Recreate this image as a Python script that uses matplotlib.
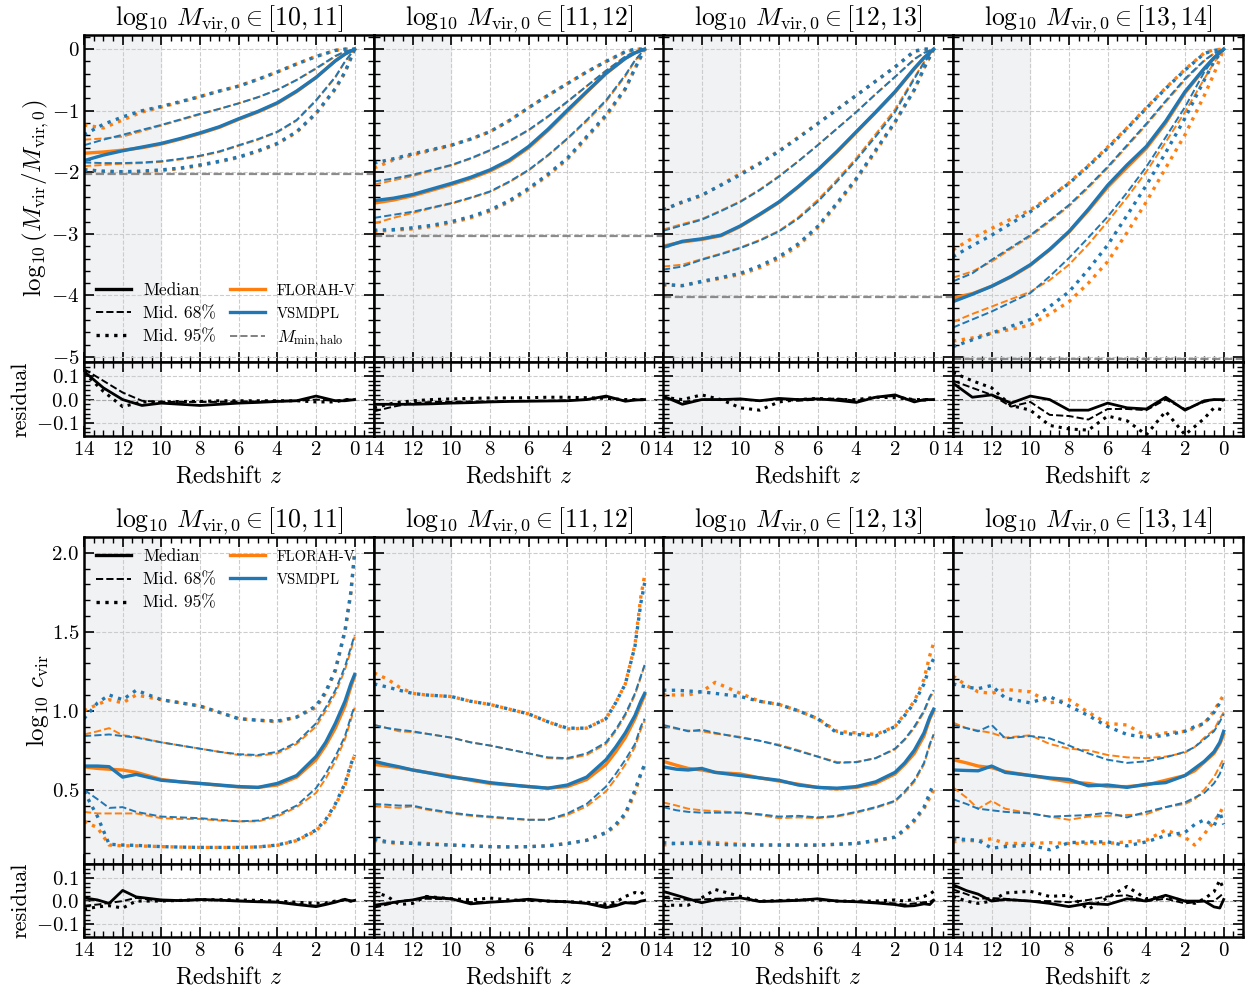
import matplotlib
matplotlib.use('Agg')
import matplotlib.pyplot as plt
from matplotlib.lines import Line2D
from matplotlib.ticker import MultipleLocator, AutoMinorLocator

plt.rcParams['font.family'] = 'cmr10'
plt.rcParams['mathtext.fontset'] = 'cm'
plt.rcParams['axes.formatter.use_mathtext'] = True

# mass bins (log10 Mvir,0) for the four columns
mass_bins = ['[10, 11]', '[11, 12]', '[12, 13]', '[13, 14]']

# redshift grids
z_mah = [14, 13, 12, 11, 10, 9, 8, 7, 6, 5, 4, 3, 2, 1, 0.5, 0]
z_conc = [14, 13.3, 12.7, 12, 11.3, 10, 9, 8, 7, 6, 5, 4, 3, 2, 1.5, 1, 0.5, 0.2, 0]

# minimum halo mass relative to Mvir,0
mmin_halo = [-2.03, -3.03, -4.03, -5.03]

# ---- mass accretion history, log10(Mvir/Mvir,0) ----
mah_med_v = [
    [-1.81, -1.72, -1.65, -1.59, -1.53, -1.45, -1.36, -1.26, -1.13, -1.01, -0.87, -0.68, -0.46, -0.19, -0.08, 0.0],
    [-2.46, -2.42, -2.36, -2.27, -2.18, -2.08, -1.96, -1.80, -1.58, -1.30, -0.99, -0.69, -0.39, -0.15, -0.06, 0.0],
    [-3.22, -3.12, -3.08, -3.02, -2.87, -2.68, -2.48, -2.23, -1.96, -1.66, -1.34, -1.02, -0.69, -0.31, -0.14, 0.0],
    [-4.10, -3.98, -3.85, -3.69, -3.50, -3.25, -2.96, -2.60, -2.21, -1.88, -1.58, -1.17, -0.69, -0.31, -0.14, 0.0],
]
mah_med_f = [
    [-1.69, -1.67, -1.64, -1.60, -1.54, -1.46, -1.37, -1.27, -1.14, -1.02, -0.88, -0.69, -0.46, -0.19, -0.08, 0.0],
    [-2.50, -2.45, -2.38, -2.29, -2.20, -2.10, -1.98, -1.82, -1.60, -1.32, -1.01, -0.70, -0.40, -0.15, -0.06, 0.0],
    [-3.20, -3.13, -3.09, -3.03, -2.88, -2.69, -2.49, -2.24, -1.97, -1.67, -1.35, -1.03, -0.70, -0.32, -0.14, 0.0],
    [-4.04, -3.97, -3.85, -3.70, -3.51, -3.26, -2.97, -2.62, -2.24, -1.92, -1.61, -1.20, -0.71, -0.32, -0.14, 0.0],
]
mah_hi68_v = [
    [-1.56, -1.47, -1.39, -1.31, -1.23, -1.14, -1.05, -0.97, -0.88, -0.78, -0.66, -0.50, -0.31, -0.11, -0.04, 0.0],
    [-2.15, -2.10, -2.04, -1.96, -1.88, -1.77, -1.64, -1.49, -1.31, -1.09, -0.85, -0.60, -0.35, -0.12, -0.04, 0.0],
    [-2.95, -2.86, -2.77, -2.63, -2.48, -2.29, -2.07, -1.82, -1.56, -1.29, -1.02, -0.73, -0.45, -0.16, -0.06, 0.0],
    [-3.77, -3.64, -3.42, -3.22, -3.02, -2.78, -2.53, -2.23, -1.91, -1.56, -1.21, -0.84, -0.48, -0.18, -0.07, 0.0],
]
mah_hi68_f = [
    [-1.47, -1.45, -1.42, -1.33, -1.24, -1.15, -1.06, -0.97, -0.88, -0.78, -0.66, -0.50, -0.32, -0.12, -0.04, 0.0],
    [-2.20, -2.13, -2.06, -1.97, -1.89, -1.78, -1.65, -1.50, -1.32, -1.10, -0.86, -0.60, -0.35, -0.12, -0.04, 0.0],
    [-2.93, -2.84, -2.76, -2.62, -2.47, -2.28, -2.06, -1.82, -1.56, -1.29, -1.02, -0.73, -0.45, -0.17, -0.06, 0.0],
    [-3.71, -3.61, -3.45, -3.24, -3.04, -2.80, -2.55, -2.25, -1.93, -1.58, -1.23, -0.86, -0.50, -0.19, -0.07, 0.0],
]
mah_hi95_v = [
    [-1.39, -1.22, -1.10, -1.00, -0.93, -0.85, -0.77, -0.68, -0.60, -0.49, -0.37, -0.24, -0.12, -0.02, 0.0, 0.0],
    [-1.85, -1.78, -1.70, -1.63, -1.56, -1.46, -1.34, -1.16, -0.95, -0.75, -0.56, -0.37, -0.20, -0.04, 0.0, 0.0],
    [-2.61, -2.48, -2.37, -2.21, -2.04, -1.86, -1.66, -1.44, -1.21, -0.98, -0.75, -0.52, -0.29, -0.03, 0.0, 0.0],
    [-3.37, -3.19, -3.02, -2.83, -2.64, -2.41, -2.18, -1.90, -1.61, -1.29, -0.96, -0.64, -0.34, -0.07, -0.02, 0.0],
]
mah_hi95_f = [
    [-1.23, -1.28, -1.15, -1.02, -0.94, -0.86, -0.77, -0.68, -0.60, -0.49, -0.37, -0.24, -0.12, -0.02, 0.0, 0.0],
    [-1.93, -1.80, -1.72, -1.64, -1.56, -1.46, -1.34, -1.16, -0.95, -0.75, -0.56, -0.37, -0.20, -0.05, 0.0, 0.0],
    [-2.61, -2.49, -2.38, -2.20, -2.02, -1.85, -1.65, -1.43, -1.21, -0.98, -0.75, -0.52, -0.29, -0.04, 0.0, 0.0],
    [-3.26, -3.07, -2.91, -2.76, -2.61, -2.40, -2.17, -1.89, -1.59, -1.28, -0.95, -0.63, -0.33, -0.06, -0.01, 0.0],
]
mah_lo68_v = [
    [-1.84, -1.85, -1.85, -1.84, -1.82, -1.78, -1.73, -1.66, -1.56, -1.46, -1.34, -1.15, -0.83, -0.45, -0.20, 0.0],
    [-2.74, -2.69, -2.64, -2.57, -2.50, -2.41, -2.31, -2.15, -1.96, -1.72, -1.45, -1.15, -0.83, -0.42, -0.18, 0.0],
    [-3.58, -3.53, -3.42, -3.33, -3.23, -3.11, -2.96, -2.75, -2.48, -2.15, -1.80, -1.42, -1.02, -0.48, -0.22, 0.0],
    [-4.52, -4.39, -4.26, -4.11, -3.96, -3.69, -3.39, -3.06, -2.72, -2.33, -1.91, -1.43, -0.94, -0.37, -0.15, 0.0],
]
mah_lo68_f = [
    [-1.90, -1.88, -1.86, -1.85, -1.83, -1.79, -1.74, -1.67, -1.57, -1.47, -1.35, -1.16, -0.84, -0.46, -0.20, 0.0],
    [-2.83, -2.74, -2.66, -2.58, -2.51, -2.42, -2.32, -2.16, -1.97, -1.73, -1.46, -1.17, -0.85, -0.44, -0.19, 0.0],
    [-3.53, -3.50, -3.41, -3.32, -3.22, -3.10, -2.95, -2.73, -2.45, -2.12, -1.77, -1.38, -0.98, -0.46, -0.21, 0.0],
    [-4.43, -4.30, -4.18, -4.06, -3.94, -3.75, -3.50, -3.17, -2.80, -2.41, -1.99, -1.51, -1.02, -0.48, -0.22, 0.0],
]
mah_lo95_v = [
    [-1.96, -1.98, -1.99, -1.98, -1.96, -1.93, -1.88, -1.82, -1.75, -1.65, -1.53, -1.34, -1.04, -0.64, -0.37, 0.0],
    [-2.94, -2.93, -2.90, -2.86, -2.80, -2.72, -2.61, -2.46, -2.26, -2.03, -1.77, -1.42, -1.07, -0.64, -0.31, 0.0],
    [-3.82, -3.84, -3.77, -3.71, -3.64, -3.52, -3.37, -3.16, -2.88, -2.50, -2.10, -1.64, -1.18, -0.66, -0.31, 0.0],
    [-4.83, -4.72, -4.61, -4.50, -4.39, -4.18, -3.94, -3.58, -3.18, -2.70, -2.21, -1.68, -1.12, -0.50, -0.20, 0.0],
]
mah_lo95_f = [
    [-1.95, -1.99, -2.00, -1.99, -1.97, -1.94, -1.89, -1.83, -1.76, -1.66, -1.54, -1.35, -1.05, -0.65, -0.38, 0.0],
    [-2.96, -2.94, -2.92, -2.88, -2.82, -2.74, -2.63, -2.48, -2.28, -2.05, -1.79, -1.44, -1.09, -0.65, -0.32, 0.0],
    [-3.83, -3.84, -3.78, -3.72, -3.66, -3.55, -3.40, -3.19, -2.90, -2.52, -2.12, -1.66, -1.19, -0.66, -0.31, 0.0],
    [-4.74, -4.69, -4.61, -4.55, -4.48, -4.30, -4.10, -3.80, -3.45, -2.98, -2.48, -1.93, -1.39, -0.75, -0.40, 0.0],
]
mah_res_med = [
    [0.12, 0.05, 0.0, -0.025, -0.015, -0.02, -0.025, -0.02, -0.015, -0.012, -0.008, -0.005, 0.015, -0.005, -0.005, 0.0],
    [-0.02, -0.02, -0.02, -0.018, -0.015, -0.013, -0.01, -0.008, -0.007, -0.006, -0.005, 0.0, 0.015, -0.007, -0.002, 0.0],
    [0.015, -0.02, 0.0, 0.0, 0.003, -0.005, 0.005, 0.0, 0.003, -0.003, -0.012, 0.01, 0.02, -0.01, 0.0, 0.0],
    [0.07, 0.01, 0.02, -0.015, 0.015, 0.0, -0.045, -0.045, -0.015, -0.035, -0.04, 0.01, -0.045, -0.005, 0.0, 0.0],
]
mah_res_68 = [
    [0.13, 0.08, 0.03, -0.005, -0.01, -0.01, -0.01, -0.01, -0.008, -0.008, -0.005, -0.005, 0.0, -0.005, 0.0, 0.0],
    [-0.05, -0.03, -0.015, -0.01, -0.01, -0.008, -0.008, -0.006, -0.005, -0.005, -0.003, 0.0, 0.01, -0.005, 0.0, 0.0],
    [0.01, -0.01, 0.0, 0.0, 0.0, -0.005, 0.0, -0.005, 0.0, 0.005, -0.005, 0.01, 0.015, 0.0, -0.005, 0.0],
    [0.08, 0.05, 0.02, -0.03, -0.01, -0.065, -0.07, -0.085, -0.04, -0.04, -0.045, 0.0, -0.04, -0.01, 0.0, -0.005],
]
mah_res_95 = [
    [0.115, 0.035, -0.03, -0.01, -0.01, -0.008, -0.008, -0.005, -0.005, -0.005, -0.005, -0.005, -0.01, -0.01, 0.0, 0.0],
    [-0.035, -0.015, -0.005, 0.0, 0.003, 0.005, 0.007, 0.007, 0.008, 0.01, 0.01, 0.008, 0.005, 0.0, 0.0, 0.0],
    [0.01, 0.0, 0.02, 0.0, -0.035, -0.045, -0.01, 0.0, 0.005, 0.0, 0.0, 0.01, 0.008, 0.0, 0.0, 0.0],
    [0.115, 0.08, 0.05, -0.025, -0.045, -0.11, -0.125, -0.13, -0.07, -0.09, -0.15, -0.05, -0.15, -0.08, -0.035, -0.045],
]

# ---- concentration, log10 c_vir ----
conc_med_v = [
    [0.65, 0.65, 0.646, 0.58, 0.597, 0.56, 0.55, 0.54, 0.53, 0.52, 0.515, 0.54, 0.59, 0.71, 0.80, 0.92, 1.06, 1.17, 1.23],
    [0.68, 0.66, 0.645, 0.625, 0.61, 0.58, 0.565, 0.545, 0.532, 0.52, 0.51, 0.53, 0.58, 0.69, 0.77, 0.86, 0.97, 1.06, 1.11],
    [0.645, 0.63, 0.625, 0.635, 0.61, 0.59, 0.575, 0.56, 0.53, 0.515, 0.51, 0.52, 0.55, 0.61, 0.67, 0.75, 0.86, 0.96, 1.01],
    [0.625, 0.622, 0.62, 0.65, 0.61, 0.59, 0.575, 0.565, 0.525, 0.53, 0.515, 0.535, 0.545, 0.59, 0.635, 0.68, 0.74, 0.80, 0.87],
]
conc_med_f = [
    [0.645, 0.635, 0.63, 0.625, 0.61, 0.565, 0.55, 0.54, 0.528, 0.518, 0.515, 0.53, 0.58, 0.69, 0.78, 0.89, 1.03, 1.15, 1.22],
    [0.66, 0.65, 0.64, 0.625, 0.61, 0.585, 0.56, 0.54, 0.53, 0.52, 0.51, 0.52, 0.565, 0.66, 0.74, 0.83, 0.95, 1.04, 1.10],
    [0.68, 0.655, 0.635, 0.625, 0.61, 0.60, 0.575, 0.555, 0.535, 0.515, 0.505, 0.515, 0.54, 0.60, 0.66, 0.73, 0.84, 0.95, 1.00],
    [0.69, 0.67, 0.65, 0.64, 0.615, 0.59, 0.57, 0.55, 0.54, 0.52, 0.52, 0.53, 0.56, 0.59, 0.62, 0.675, 0.73, 0.79, 0.85],
]
conc_hi68_v = [
    [0.84, 0.845, 0.85, 0.84, 0.83, 0.80, 0.78, 0.76, 0.74, 0.725, 0.72, 0.74, 0.80, 0.92, 1.02, 1.13, 1.28, 1.40, 1.48],
    [0.91, 0.89, 0.88, 0.87, 0.855, 0.83, 0.80, 0.78, 0.755, 0.73, 0.705, 0.70, 0.73, 0.80, 0.88, 0.98, 1.11, 1.22, 1.29],
    [0.91, 0.89, 0.87, 0.88, 0.86, 0.83, 0.81, 0.78, 0.745, 0.71, 0.67, 0.675, 0.70, 0.76, 0.82, 0.90, 1.00, 1.09, 1.13],
    [0.91, 0.89, 0.87, 0.91, 0.825, 0.84, 0.825, 0.78, 0.73, 0.69, 0.67, 0.68, 0.705, 0.74, 0.77, 0.82, 0.87, 0.93, 0.98],
]
conc_hi68_f = [
    [0.85, 0.87, 0.89, 0.845, 0.835, 0.80, 0.78, 0.76, 0.74, 0.72, 0.715, 0.73, 0.79, 0.90, 1.00, 1.11, 1.26, 1.38, 1.47],
    [0.91, 0.89, 0.87, 0.865, 0.855, 0.83, 0.80, 0.78, 0.755, 0.73, 0.70, 0.695, 0.72, 0.79, 0.87, 0.97, 1.10, 1.21, 1.29],
    [0.905, 0.885, 0.875, 0.87, 0.855, 0.835, 0.81, 0.785, 0.75, 0.71, 0.675, 0.675, 0.70, 0.755, 0.815, 0.89, 0.99, 1.08, 1.12],
    [0.925, 0.89, 0.875, 0.86, 0.83, 0.845, 0.79, 0.76, 0.75, 0.72, 0.705, 0.70, 0.71, 0.735, 0.77, 0.83, 0.88, 0.95, 0.99],
]
conc_hi95_v = [
    [0.95, 1.05, 1.10, 1.07, 1.13, 1.07, 1.05, 1.03, 0.99, 0.95, 0.94, 0.935, 0.96, 1.03, 1.12, 1.26, 1.51, 1.75, 2.00],
    [1.17, 1.15, 1.13, 1.11, 1.10, 1.09, 1.06, 1.04, 1.01, 0.98, 0.93, 0.89, 0.89, 0.95, 1.05, 1.17, 1.41, 1.68, 1.81],
    [1.13, 1.13, 1.125, 1.12, 1.11, 1.09, 1.06, 1.04, 1.00, 0.95, 0.86, 0.85, 0.84, 0.90, 0.97, 1.05, 1.17, 1.28, 1.33],
    [1.17, 1.15, 1.14, 1.16, 1.08, 1.05, 1.09, 1.03, 0.97, 0.90, 0.85, 0.83, 0.845, 0.87, 0.90, 0.92, 0.99, 1.05, 1.07],
]
conc_hi95_f = [
    [1.00, 1.04, 1.07, 1.05, 1.10, 1.07, 1.05, 1.03, 0.99, 0.95, 0.94, 0.93, 0.96, 1.02, 1.11, 1.25, 1.50, 1.74, 2.00],
    [1.24, 1.20, 1.15, 1.11, 1.10, 1.09, 1.06, 1.04, 1.01, 0.98, 0.93, 0.885, 0.89, 0.95, 1.05, 1.17, 1.42, 1.72, 1.86],
    [1.10, 1.10, 1.10, 1.12, 1.18, 1.11, 1.06, 1.04, 1.00, 0.95, 0.87, 0.86, 0.85, 0.90, 0.98, 1.06, 1.20, 1.35, 1.43],
    [1.22, 1.16, 1.12, 1.11, 1.135, 1.12, 1.05, 1.07, 0.99, 0.92, 0.91, 0.84, 0.86, 0.87, 0.89, 0.92, 1.00, 1.06, 1.10],
]
conc_lo68_v = [
    [0.50, 0.44, 0.385, 0.39, 0.36, 0.33, 0.325, 0.32, 0.31, 0.30, 0.305, 0.34, 0.40, 0.51, 0.60, 0.71, 0.84, 0.96, 1.03],
    [0.41, 0.405, 0.40, 0.40, 0.38, 0.355, 0.34, 0.33, 0.32, 0.31, 0.31, 0.35, 0.41, 0.52, 0.60, 0.69, 0.79, 0.90, 0.95],
    [0.39, 0.37, 0.36, 0.355, 0.355, 0.355, 0.345, 0.33, 0.335, 0.325, 0.335, 0.36, 0.39, 0.43, 0.49, 0.56, 0.67, 0.79, 0.85],
    [0.44, 0.41, 0.38, 0.37, 0.36, 0.35, 0.33, 0.335, 0.34, 0.355, 0.325, 0.36, 0.39, 0.42, 0.45, 0.48, 0.54, 0.60, 0.67],
]
conc_lo68_f = [
    [0.36, 0.35, 0.35, 0.35, 0.35, 0.32, 0.315, 0.315, 0.305, 0.30, 0.30, 0.33, 0.39, 0.48, 0.57, 0.68, 0.82, 0.94, 1.02],
    [0.40, 0.39, 0.385, 0.395, 0.375, 0.35, 0.335, 0.325, 0.315, 0.31, 0.31, 0.34, 0.395, 0.49, 0.57, 0.66, 0.77, 0.88, 0.94],
    [0.42, 0.40, 0.38, 0.37, 0.365, 0.355, 0.34, 0.32, 0.325, 0.32, 0.33, 0.355, 0.385, 0.425, 0.48, 0.55, 0.66, 0.78, 0.85],
    [0.515, 0.45, 0.38, 0.43, 0.38, 0.35, 0.33, 0.31, 0.33, 0.335, 0.34, 0.345, 0.39, 0.41, 0.44, 0.50, 0.58, 0.65, 0.70],
]
conc_lo95_v = [
    [0.49, 0.33, 0.155, 0.15, 0.148, 0.14, 0.137, 0.135, 0.135, 0.135, 0.138, 0.15, 0.18, 0.245, 0.31, 0.41, 0.54, 0.66, 0.72],
    [0.19, 0.17, 0.165, 0.16, 0.155, 0.15, 0.145, 0.14, 0.138, 0.14, 0.145, 0.16, 0.18, 0.23, 0.28, 0.35, 0.50, 0.60, 0.66],
    [0.165, 0.16, 0.16, 0.16, 0.155, 0.15, 0.15, 0.15, 0.15, 0.15, 0.155, 0.16, 0.18, 0.20, 0.25, 0.31, 0.39, 0.48, 0.54],
    [0.19, 0.185, 0.18, 0.13, 0.14, 0.15, 0.12, 0.165, 0.17, 0.17, 0.145, 0.17, 0.21, 0.23, 0.28, 0.31, 0.27, 0.36, 0.28],
]
conc_lo95_f = [
    [0.30, 0.26, 0.15, 0.145, 0.145, 0.14, 0.137, 0.135, 0.135, 0.135, 0.138, 0.148, 0.178, 0.24, 0.30, 0.40, 0.53, 0.65, 0.72],
    [0.18, 0.165, 0.16, 0.165, 0.16, 0.15, 0.145, 0.14, 0.138, 0.14, 0.145, 0.16, 0.18, 0.225, 0.27, 0.34, 0.48, 0.60, 0.66],
    [0.15, 0.16, 0.165, 0.17, 0.165, 0.155, 0.15, 0.15, 0.15, 0.148, 0.155, 0.16, 0.175, 0.20, 0.24, 0.30, 0.38, 0.45, 0.50],
    [0.17, 0.18, 0.175, 0.19, 0.16, 0.16, 0.165, 0.16, 0.16, 0.16, 0.17, 0.18, 0.245, 0.20, 0.15, 0.22, 0.30, 0.35, 0.40],
]
conc_res_med = [
    [0.014, 0.005, -0.01, 0.046, 0.018, 0.005, 0.002, 0.007, 0.004, 0.0, -0.003, -0.005, -0.015, -0.024, -0.015, -0.005, 0.008, 0.0, 0.003],
    [-0.018, -0.01, -0.002, 0.005, 0.018, 0.01, -0.012, -0.005, 0.0, 0.008, 0.0, -0.003, -0.01, -0.028, -0.02, -0.007, -0.01, 0.0, 0.003],
    [0.042, 0.025, 0.01, -0.007, 0.005, 0.014, -0.002, 0.0, 0.003, 0.01, 0.0, -0.003, -0.008, -0.015, -0.022, -0.02, -0.012, -0.015, 0.003],
    [0.07, 0.045, 0.03, 0.0, 0.007, 0.0, -0.01, -0.024, -0.01, -0.015, 0.01, 0.0, 0.025, 0.0, 0.0, 0.0, -0.025, -0.03, 0.007],
]
conc_res_68 = [
    [-0.02, -0.015, -0.008, 0.0, 0.014, 0.0, 0.003, 0.005, 0.005, 0.002, 0.0, -0.003, -0.012, -0.02, -0.012, -0.003, 0.005, 0.0, 0.0],
    [-0.028, -0.015, 0.0, 0.005, 0.01, 0.008, -0.005, -0.003, 0.0, 0.003, 0.0, -0.003, -0.01, -0.02, -0.015, -0.005, -0.005, 0.0, 0.0],
    [0.014, 0.01, 0.005, 0.007, 0.01, 0.014, 0.0, 0.002, 0.005, 0.008, 0.0, 0.0, -0.005, -0.01, -0.015, -0.01, -0.005, -0.004, 0.007],
    [0.05, 0.03, 0.01, 0.013, 0.01, 0.0, 0.0, -0.005, 0.005, 0.02, 0.025, 0.0, 0.01, -0.01, -0.005, 0.0, 0.0, 0.02, 0.035],
]
conc_res_95 = [
    [-0.035, -0.025, -0.02, -0.03, 0.0, 0.0, 0.003, 0.006, 0.006, 0.005, 0.003, 0.0, -0.005, -0.01, -0.008, 0.0, 0.005, 0.0, 0.0],
    [0.04, 0.02, -0.015, -0.01, 0.02, 0.01, 0.005, 0.013, 0.005, 0.003, 0.0, -0.003, -0.005, -0.013, -0.005, 0.02, 0.037, 0.03, 0.045],
    [-0.018, -0.018, -0.018, 0.014, 0.05, 0.02, 0.0, 0.002, 0.005, 0.005, 0.0, 0.0, 0.0, 0.005, 0.0, 0.008, 0.02, 0.03, 0.042],
    [0.02, 0.0, -0.01, 0.0, 0.035, 0.042, 0.02, 0.025, -0.035, 0.015, 0.063, 0.01, 0.02, 0.0, -0.01, 0.01, 0.04, 0.09, 0.05],
]

C_FLORAH = '#ff7f0e'
C_VSMDPL = '#1f77b4'
SHADE = '#f1f2f4'
W, H = 1248, 994


def style_axes(ax, show_x, show_y):
    ax.set_xlim(14, -1)
    ax.xaxis.set_major_locator(MultipleLocator(2))
    ax.xaxis.set_minor_locator(MultipleLocator(0.5))
    ax.yaxis.set_minor_locator(AutoMinorLocator())
    ax.tick_params(which='both', direction='in', top=True, right=True,
                   labelsize=15, labelbottom=show_x, labelleft=show_y)
    ax.tick_params(which='major', length=7, width=1.2)
    ax.tick_params(which='minor', length=4, width=1.0)
    for s in ax.spines.values():
        s.set_linewidth(1.8)
    ax.grid(True, which='major', ls='--', lw=0.8, color='#cccccc')
    ax.axvspan(14, 10, color=SHADE, zorder=0)


def draw_bands(ax, z, i, med_f, med_v, hi68_f, hi68_v, lo68_f, lo68_v,
               hi95_f, hi95_v, lo95_f, lo95_v):
    for col, med, hi68, lo68, hi95, lo95 in [
            (C_FLORAH, med_f, hi68_f, lo68_f, hi95_f, lo95_f),
            (C_VSMDPL, med_v, hi68_v, lo68_v, hi95_v, lo95_v)]:
        ax.plot(z, med[i], color=col, lw=2.4, ls='-')
        ax.plot(z, hi68[i], color=col, lw=1.4, ls='--')
        ax.plot(z, lo68[i], color=col, lw=1.4, ls='--')
        ax.plot(z, hi95[i], color=col, lw=2.4, ls=':')
        ax.plot(z, lo95[i], color=col, lw=2.4, ls=':')


def draw_residual(ax, z, i, r_med, r68, r95):
    ax.axhline(0, color='#aaaaaa', lw=0.8, ls='--')
    ax.plot(z, r_med[i], color='k', lw=2.0, ls='-')
    ax.plot(z, r68[i], color='k', lw=1.4, ls='--')
    ax.plot(z, r95[i], color='k', lw=2.2, ls=':')
    ax.set_ylim(-0.155, 0.16)
    ax.yaxis.set_major_locator(MultipleLocator(0.1))


fig = plt.figure(figsize=(W / 100, H / 100), dpi=100)

col_left = [84, 374, 663, 953]
col_w = 290
# (main top, main bottom / residual top, residual bottom) in pixels
rows = [(35, 362, 436), (537, 864, 937)]


def add_ax(x0, y_top, y_bot):
    return fig.add_axes([x0 / W, 1 - y_bot / H, col_w / W, (y_bot - y_top) / H])


for r, (y0, y1, y2) in enumerate(rows):
    for i in range(4):
        ax = add_ax(col_left[i], y0, y1)
        rax = add_ax(col_left[i], y1, y2)
        style_axes(ax, False, i == 0)
        style_axes(rax, True, i == 0)
        ax.set_title(r'$\log_{10}\,M_{\rm vir,0} \in %s$' % mass_bins[i],
                     fontsize=18.5, pad=6)
        rax.set_xlabel(r'Redshift $z$', fontsize=17, labelpad=5)
        if r == 0:
            draw_bands(ax, z_mah, i, mah_med_f, mah_med_v, mah_hi68_f, mah_hi68_v,
                       mah_lo68_f, mah_lo68_v, mah_hi95_f, mah_hi95_v,
                       mah_lo95_f, mah_lo95_v)
            ax.axhline(mmin_halo[i], color='gray', lw=1.6, ls='--', alpha=0.9)
            ax.set_ylim(-5.08, 0.23)
            ax.yaxis.set_major_locator(MultipleLocator(1))
            draw_residual(rax, z_mah, i, mah_res_med, mah_res_68, mah_res_95)
        else:
            draw_bands(ax, z_conc, i, conc_med_f, conc_med_v, conc_hi68_f, conc_hi68_v,
                       conc_lo68_f, conc_lo68_v, conc_hi95_f, conc_hi95_v,
                       conc_lo95_f, conc_lo95_v)
            ax.set_ylim(0.03, 2.1)
            ax.yaxis.set_major_locator(MultipleLocator(0.5))
            draw_residual(rax, z_conc, i, conc_res_med, conc_res_68, conc_res_95)
        ax.set_xlim(14, -1)
        rax.set_xlim(14, -1)

        if i == 0:
            if r == 0:
                ax.set_ylabel(r'$\log_{10}(M_{\rm vir}/M_{\rm vir,0})$', fontsize=18,
                              labelpad=0)
            else:
                ax.set_ylabel(r'$\log_{10}\,c_{\rm vir}$', fontsize=18, labelpad=0)
            rax.set_ylabel('residual', fontsize=16)

            handles = [
                Line2D([], [], color='k', lw=2.4, ls='-', label='Median'),
                Line2D([], [], color='k', lw=1.4, ls='--', label='Mid. 68%'),
                Line2D([], [], color='k', lw=2.4, ls=':', label='Mid. 95%'),
                Line2D([], [], color=C_FLORAH, lw=2.4, label='FLORAH-V'),
                Line2D([], [], color=C_VSMDPL, lw=2.4, label='VSMDPL'),
            ]
            if r == 0:
                handles.append(Line2D([], [], color='gray', lw=1.4, ls='--',
                                      label=r'$M_{\rm min,halo}$'))
            leg = ax.legend(handles=handles, ncol=2, frameon=False,
                            loc='lower left' if r == 0 else 'upper left',
                            fontsize=12.5, handlelength=2.0, handletextpad=0.7,
                            columnspacing=0.8, borderaxespad=0.3,
                            labelspacing=0.45)
            for t in leg.get_texts():
                if t.get_text() in ('FLORAH-V', 'VSMDPL'):
                    t.set_fontsize(10.5)

fig.savefig('out.png', dpi=100)
